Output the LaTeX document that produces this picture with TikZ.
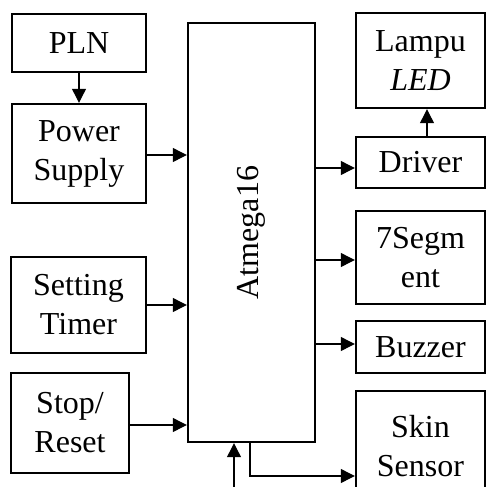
\documentclass[tikz,border=0pt]{standalone}
\usepackage{fontspec}
\setmainfont{Liberation Serif}
\usetikzlibrary{arrows.meta}

\begin{document}
\begin{tikzpicture}[x=0.5pt,y=-0.5pt,
    blok/.style={draw,line width=1.2pt,align=center,inner sep=0pt,
      font=\fontsize{16}{19.5}\selectfont},
    panah/.style={-{Triangle[length=7pt,width=7pt]},line width=0.6pt}]
    \useasboundingbox (0,0) rectangle (488,487);

    % blok masukan
    \node[blok,minimum width=67pt,minimum height=29pt] (pln) at (79,43) {PLN};
    \node[blok,minimum width=67pt,minimum height=49.5pt] (power) at (79,153.5) {Power\\Supply};
    \node[blok,minimum width=67.5pt,minimum height=48pt] (timer) at (78.5,305) {Setting\\Timer};
    \node[blok,minimum width=59pt,minimum height=50pt] (stop) at (70,423) {Stop/\\Reset};

    % mikrokontroler
    \node[blok,minimum width=63.5pt,minimum height=209.5pt] (mcu) at (251.5,232.5) {};
    \node[font=\fontsize{16}{19.5}\selectfont,rotate=90] (mculabel) at (mcu.center) {Atmega16};

    % blok keluaran
    \node[blok,minimum width=64.5pt,minimum height=47.5pt] (lampu) at (420.5,60.5) {Lampu\\\textit{LED}};
    \node[blok,minimum width=64.5pt,minimum height=25.5pt] (driver) at (420.5,162.5) {Driver};
    \node[blok,minimum width=64.5pt,minimum height=46.5pt] (seg) at (420.5,257.5) {7Segm\\ent};
    \node[blok,minimum width=64.5pt,minimum height=26pt] (buzzer) at (420.5,347) {Buzzer};
    \node[blok,minimum width=64.5pt,minimum height=55pt] (skin) at (420.5,446) {Skin\\Sensor};

    \coordinate (masuk) at (234,487);

    % panah
    \draw[panah] (pln) -- (power);
    \draw[panah] ([yshift=-0.75pt]power.east) -- ([yshift=-0.75pt]power.east -| mcu.west);
    \draw[panah] (timer.east) -- (timer.east -| mcu.west);
    \draw[panah] ([yshift=-1pt]stop.east) -- ([yshift=-1pt]stop.east -| mcu.west);
    \draw[panah] ([yshift=-2.75pt]driver.west -| mcu.east) -- ([yshift=-2.75pt]driver.west);
    \draw[panah] ([xshift=3.25pt]driver.north) -- ([xshift=3.25pt]lampu.south);
    \draw[panah] ([yshift=-1.25pt]seg.west -| mcu.east) -- ([yshift=-1.25pt]seg.west);
    \draw[panah] ([yshift=1.5pt]buzzer.west -| mcu.east) -- ([yshift=1.5pt]buzzer.west);
    \draw[panah] ([xshift=-0.75pt]mcu.south) |- ([yshift=-15pt]skin.west);
    \draw[panah] (masuk) -- (masuk |- mcu.south);
\end{tikzpicture}
\end{document}
